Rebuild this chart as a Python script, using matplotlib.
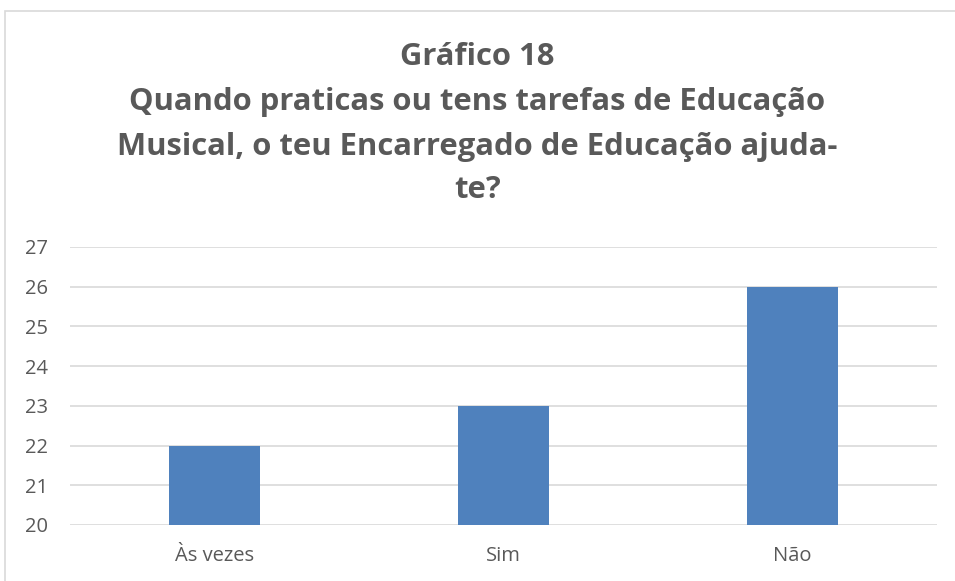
import matplotlib.pyplot as plt
from matplotlib.patches import Rectangle

categories = ['Às vezes', 'Sim', 'Não']
values = [22, 23, 26]
title_lines = ['Gráfico 18',
               'Quando praticas ou tens tarefas de Educação',
               'Musical, o teu Encarregado de Educação ajuda-',
               'te?']

GREY = '#595959'


def _main():
    plt.rcParams['font.family'] = ['Open Sans', 'DejaVu Sans']
    fig = plt.figure(figsize=(9.55, 5.81), dpi=100)
    ax = fig.add_axes([70 / 955, 1 - 525 / 581, 867 / 955, 278 / 581])

    ax.bar(range(len(categories)), values, width=0.313, color='#4F81BD', zorder=3)
    ax.set_ylim(20, 27)
    ax.set_xlim(-0.5, len(categories) - 0.5)
    ax.set_yticks(range(20, 28))
    ax.set_xticks(range(len(categories)))
    ax.set_xticklabels(categories)
    ax.yaxis.grid(True, color='#d9d9d9', linewidth=1.2, zorder=0)
    for s in ax.spines.values():
        s.set_visible(False)
    ax.tick_params(length=0, colors=GREY, labelsize=14.5)
    ax.tick_params(axis='y', pad=16)
    ax.tick_params(axis='x', pad=15)

    # title lines, one text each so the line spacing matches
    line_y = [57, 102, 147, 190]
    for txt, y in zip(title_lines, line_y):
        fig.text(0.5, 1 - y / 581, txt, ha='center', va='center',
                 fontsize=22.3, fontweight='bold', color=GREY)

    # chart area border
    fig.patches.append(Rectangle((5 / 955, -0.1), 1.2, 1 - 11 / 581 + 0.1,
                                 transform=fig.transFigure, fill=False,
                                 edgecolor='#d9d9d9', linewidth=1.2))

    fig.savefig('out.png', dpi=100)


if __name__ == '__main__':
    _main()
